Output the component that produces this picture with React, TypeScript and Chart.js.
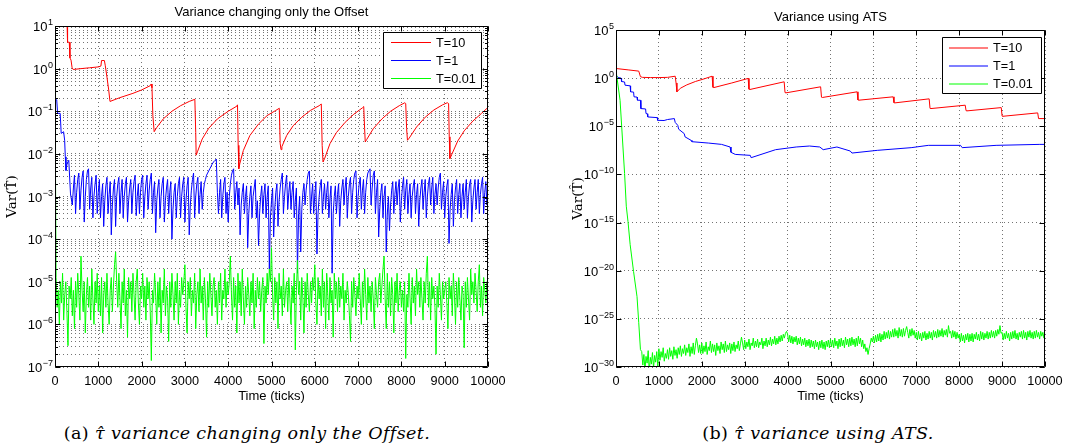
import React, { useEffect, useRef } from "react";
import { Chart, registerables } from "chart.js";

Chart.register(...registerables);

const SANS = "'Liberation Sans', Arial, Helvetica, sans-serif";
const SERIF = "'DejaVu Serif', 'Liberation Serif', serif";

// ---------- axes / ticks ----------
const xTickValues = [0, 1000, 2000, 3000, 4000, 5000, 6000, 7000, 8000, 9000, 10000];
const offsetYExponents = [-7, -6, -5, -4, -3, -2, -1, 0, 1];
const minorMantissas = [2, 3, 4, 5, 6, 7, 8, 9];
const atsYExponents = [-30, -25, -20, -15, -10, -5, 0, 5];

const seriesLabels = ["T=10", "T=1", "T=0.01"];
const seriesColors = ["rgb(255,0,0)", "rgb(0,0,255)", "rgb(0,255,0)"];

// ---------- (a) Variance changing only the Offset : log10(Var) ----------
const offRedTicks = [0,280,290,330,345,370,395,420,600,800,1000,1060,1075,1140,1160,1200,1240,1270,1500,1800,2000,2200,2220,2240,2260,2290,2350,2500,2700,2900,3100,3230,3250,3260,3290,3400,3550,3750,4000,4200,4215,4230,4245,4270,4350,4500,4700,4900,5100,5180,5200,5220,5240,5350,5500,5700,5900,6100,6150,6170,6190,6230,6350,6500,6700,6900,7100,7130,7150,7165,7200,7350,7550,7750,7950,8080,8100,8120,8140,8180,8350,8550,8750,8950,9060,9090,9105,9120,9160,9300,9450,9650,9850,10000];
const offRedLog10 = [1.0,1.0,0.62,0.62,0.25,0.2,0.02,-0.02,0.0,0.02,0.04,0.06,0.19,0.19,0.08,-0.2,-0.5,-0.77,-0.68,-0.58,-0.5,-0.4,-0.36,-0.45,-1.1,-1.48,-1.38,-1.18,-1.0,-0.87,-0.77,-0.72,-1.5,-2.03,-1.95,-1.65,-1.4,-1.18,-1.0,-0.88,-0.85,-1.8,-2.35,-2.22,-1.92,-1.57,-1.3,-1.1,-0.98,-0.93,-1.75,-1.9,-1.83,-1.57,-1.34,-1.14,-0.98,-0.87,-0.83,-1.8,-2.19,-2.1,-1.76,-1.5,-1.26,-1.07,-0.92,-0.89,-1.4,-1.72,-1.66,-1.41,-1.18,-1.0,-0.87,-0.8,-0.82,-1.4,-1.68,-1.63,-1.37,-1.14,-0.97,-0.85,-0.8,-0.82,-1.6,-2.11,-2.02,-1.7,-1.46,-1.23,-1.05,-0.91];

const offBlueHeadTicks = [0,40,60,120,143,199,223,238,254,278,318,358];
const offBlueHeadLog10 = [-0.73,-0.73,-1.05,-1.05,-1.52,-1.48,-1.68,-2.07,-2.39,-2.23,-2.15,-2.94];
const offBlueNoiseStart = 400;
const offBlueNoiseStep = 25;
const offBlueNoiseLog10 = [
  -3.2,-2.8,-2.5,-3.4,-2.9,-2.6,-2.45,-3.3,-2.85,-2.55,-2.4,-3.6,-3.0,-2.6,-2.4,-2.35,-3.3,-2.8,-2.55,-3.5,
  -3.0,-2.7,-2.5,-3.4,-2.9,-2.6,-3.5,-3.0,-2.7,-3.7,-3.1,-2.75,-2.55,-3.4,-2.95,-2.65,-3.9,-3.2,-2.8,-2.6,
  -3.7,-3.0,-2.7,-2.55,-3.4,-2.9,-2.6,-3.5,-3.0,-2.7,-2.55,-3.6,-3.1,-2.8,-2.6,-3.4,-2.9,-2.65,-2.5,-3.45,
  -3.0,-2.7,-3.4,-2.9,-2.6,-2.5,-3.5,-3.0,-2.7,-2.5,-3.3,-2.85,-2.6,-2.45,-3.4,-2.9,-2.65,-3.85,-3.1,-2.8,
  -2.6,-3.5,-3.0,-2.7,-2.55,-3.6,-3.1,-2.8,-2.6,-3.4,-2.9,-2.65,-4.0,-3.3,-2.9,-2.7,-3.5,-3.0,-2.7,-2.55,
  -3.5,-3.0,-2.7,-2.55,-3.6,-3.1,-2.75,-2.55,-3.9,-3.2,-2.85,-2.6,-2.45,-3.5,-3.0,-2.7,-2.55,-3.4,-2.95,-2.65,
  -3.3,-2.9,-2.7,-2.6,-2.5,-2.45,-2.4,-2.35,-2.3,-2.25,-2.2,-2.18,-2.15,-2.12,-2.9,-3.4,-2.9,-2.6,-3.5,-3.0,
  -2.7,-2.55,-3.4,-2.9,-3.6,-3.0,-2.7,-2.5,-2.4,-2.35,-3.3,-2.9,-2.65,-3.2,-2.8,-3.9,-3.2,-2.9,-2.7,-3.4,
  -3.0,-2.75,-4.2,-3.4,-3.0,-2.75,-3.5,-3.0,-2.8,-2.6,-3.5,-3.1,-4.15,-3.4,-3.0,-2.75,-3.4,-2.95,-2.7,-3.5,
  -3.0,-2.75,-4.7,-3.5,-3.1,-2.8,-3.95,-3.3,-2.9,-2.7,-3.7,-3.1,-2.8,-2.6,-2.45,-3.4,-3.0,-2.7,-2.5,-3.3,
  -2.9,-2.65,-3.3,-2.9,-2.65,-3.5,-3.1,-2.8,-4.8,-3.4,-3.0,-4.3,-3.3,-2.9,-2.7,-3.2,-2.85,-2.6,-2.45,-2.4,
  -3.4,-3.0,-2.7,-3.4,-2.95,-2.65,-4.35,-3.4,-3.0,-2.75,-2.6,-3.4,-3.0,-2.7,-3.3,-2.9,-2.65,-3.5,-3.05,-2.75,
  -4.8,-3.4,-3.0,-2.75,-3.4,-2.95,-2.7,-3.7,-3.1,-2.8,-2.6,-3.2,-2.8,-2.55,-3.5,-3.0,-2.7,-2.55,-3.4,-2.9,
  -2.6,-2.45,-2.4,-3.5,-3.0,-2.7,-2.55,-3.3,-2.85,-2.6,-3.4,-2.9,-2.6,-2.45,-2.4,-2.35,-3.2,-2.8,-2.5,-2.4,
  -3.4,-2.9,-2.6,-3.95,-3.3,-2.9,-2.7,-3.5,-3.0,-2.75,-4.3,-3.4,-3.0,-3.8,-3.2,-2.85,-2.65,-3.4,-2.95,-2.65,
  -3.2,-2.8,-2.6,-3.6,-3.1,-2.75,-2.55,-3.3,-2.85,-2.6,-3.4,-2.95,-2.7,-3.5,-3.0,-2.75,-2.6,-3.4,-2.95,-2.7,
  -3.7,-3.1,-2.8,-2.6,-3.3,-2.9,-2.6,-3.5,-3.0,-2.7,-2.55,-3.2,-2.8,-2.55,-3.4,-2.95,-2.7,-3.2,-2.8,-2.55,
  -2.45,-3.3,-2.9,-2.65,-3.5,-3.0,-2.75,-2.6,-4.1,-3.3,-2.95,-2.7,-3.7,-3.1,-2.8,-2.6,-3.4,-2.95,-2.7,-3.5,
  -3.0,-2.7,-3.3,-2.9,-2.6,-3.5,-3.0,-2.7,-2.6,-3.6,-3.1,-2.8,-2.6,-3.3,-2.9,-2.6,-3.4,-2.95,-2.7,-2.55,
  -3.4,-2.9,-2.65,-3.2,-2.8
];

const offGreenHeadTicks = [0, 12];
const offGreenHeadLog10 = [1.0, -2.5];
const offGreenNoiseStart = 25;
const offGreenNoiseStep = 25;
const offGreenNoiseLog10 = [
  -4.9,-5.6,-5.2,-6.0,-5.0,-5.5,-4.8,-5.9,-5.3,-5.0,-5.7,-6.5,-5.1,-5.4,-4.9,-5.8,-5.2,-6.1,-5.0,-5.6,
  -4.8,-5.3,-5.9,-4.4,-5.2,-5.7,-5.0,-6.2,-5.3,-4.9,-5.6,-5.1,-5.9,-4.7,-5.4,-6.0,-5.0,-5.5,-4.8,-5.7,
  -5.1,-5.8,-4.9,-6.2,-5.3,-5.0,-5.6,-4.8,-5.5,-6.0,-5.2,-4.9,-5.7,-5.1,-4.6,-4.3,-5.0,-5.6,-4.8,-5.4,
  -6.1,-5.0,-5.5,-4.7,-5.8,-5.2,-6.3,-4.9,-5.4,-5.0,-5.7,-4.8,-5.3,-5.9,-5.0,-4.7,-5.5,-6.0,-5.1,-5.4,
  -4.8,-5.6,-5.1,-5.9,-4.9,-5.4,-5.0,-5.7,-6.85,-5.2,-5.5,-4.8,-5.3,-6.0,-5.0,-5.6,-4.9,-6.2,-5.2,-5.5,
  -4.7,-5.8,-5.1,-5.4,-6.4,-5.0,-5.6,-4.8,-5.3,-5.9,-5.0,-5.5,-4.8,-6.0,-5.2,-5.6,-4.9,-5.3,-5.0,-4.6,
  -5.6,-6.2,-5.0,-5.4,-4.9,-5.8,-5.2,-5.5,-4.8,-6.1,-5.3,-5.0,-5.7,-4.7,-5.5,-5.1,-5.9,-4.9,-5.4,-6.3,
  -5.0,-5.6,-4.8,-5.3,-5.8,-5.1,-4.9,-5.6,-5.2,-6.0,-5.0,-5.5,-4.8,-5.9,-5.2,-5.4,-4.7,-5.6,-5.0,-5.3,
  -5.0,-4.4,-5.3,-5.9,-4.9,-5.6,-5.1,-6.2,-4.8,-5.5,-5.0,-5.8,-4.7,-5.4,-6.0,-5.1,-5.6,-4.9,-5.3,-5.8,
  -5.0,-5.5,-4.8,-6.1,-5.2,-5.6,-4.9,-5.4,-5.0,-5.7,-5.2,-4.9,-6.45,-5.1,-5.5,-4.8,-5.3,-4.7,-5.0,-4.2,
  -5.3,-5.9,-4.9,-5.5,-5.0,-6.1,-4.8,-5.4,-5.1,-5.8,-4.7,-5.6,-5.2,-5.0,-5.7,-4.9,-5.4,-6.0,-5.1,-5.5,
  -4.8,-6.6,-5.2,-4.5,-5.3,-5.0,-5.9,-4.9,-5.4,-6.2,-5.0,-5.6,-4.8,-5.3,-5.7,-5.0,-5.5,-4.9,-5.2,-4.6,
  -5.5,-6.0,-4.9,-5.4,-5.1,-5.8,-4.7,-5.6,-5.0,-6.1,-4.8,-5.3,-5.9,-4.9,-5.5,-5.2,-6.3,-4.8,-5.4,-5.0,
  -5.7,-4.9,-5.6,-5.1,-5.4,-4.8,-5.9,-5.2,-5.5,-5.0,-5.3,-5.8,-6.4,-5.0,-5.6,-4.9,-5.3,-5.8,-5.1,-5.4,
  -4.8,-5.4,-6.0,-5.0,-5.6,-4.7,-5.3,-5.9,-4.9,-5.5,-5.1,-5.7,-5.0,-5.4,-6.1,-4.9,-5.3,-5.6,-5.0,-4.8,
  -5.5,-5.1,-4.7,-4.4,-5.4,-6.1,-4.8,-5.6,-5.0,-5.8,-4.9,-5.3,-6.2,-5.0,-5.5,-4.8,-5.7,-5.2,-5.0,-5.6,
  -5.2,-5.7,-5.0,-6.8,-5.3,-5.6,-4.8,-5.4,-6.0,-4.9,-5.5,-5.1,-5.8,-4.7,-5.3,-5.0,-5.6,-4.9,-5.4,-5.9,
  -5.0,-5.5,-4.8,-4.4,-5.6,-5.0,-5.9,-4.9,-5.4,-5.1,-5.6,-6.7,-5.1,-5.6,-4.8,-5.3,-5.9,-5.0,-5.4,-5.2,
  -5.0,-5.5,-6.1,-4.9,-5.4,-5.1,-5.8,-4.8,-5.3,-6.0,-5.0,-5.6,-4.9,-5.4,-5.9,-5.1,-5.3,-6.55,-5.0,-5.6,
  -4.9,-5.4,-5.9,-4.7,-5.3,-5.0,-5.5,-4.8,-5.2,-5.7,-5.0,-4.6,-5.6,-5.1,-5.8,-4.9,-5.2,-5.5,-5.0,-5.3
];

// ---------- (b) Variance using ATS : log10(Var) ----------
const atsRedTicks = [0,300,530,570,620,800,1000,1200,1380,1400,1420,1500,1650,1850,2050,2240,2260,2280,2700,3080,3100,3120,3920,3940,3960,4770,4790,4810,5620,5640,5660,6460,6480,6500,7300,7320,7340,8140,8160,8180,8980,9000,9020,9830,9850,10000];
const atsRedLog10 = [1.0,0.85,0.73,0.15,0.08,0.06,0.06,0.08,0.2,-0.5,-1.42,-1.05,-0.7,-0.35,-0.08,0.2,-0.95,-0.98,-0.5,-0.03,-1.15,-1.18,-0.38,-1.5,-1.53,-0.9,-1.98,-2.01,-1.42,-2.27,-2.29,-1.94,-2.55,-2.57,-2.15,-3.14,-3.16,-2.81,-3.38,-3.4,-3.06,-3.94,-3.96,-3.61,-4.2,-4.2];

const atsBlueTicks = [0,50,120,130,200,210,330,340,410,420,490,500,570,580,690,700,730,740,960,970,1120,1200,1360,1380,1440,1460,1590,1610,1750,1770,2150,2460,2660,2680,2780,3130,3150,3720,4200,4510,4750,4830,5150,5460,5500,6090,6880,7280,8030,8070,8860,9880,10000];
const atsBlueLog10 = [0.3,0.07,0.0,-0.35,-0.4,-0.73,-0.8,-1.42,-1.45,-1.94,-1.97,-2.29,-2.3,-3.16,-3.2,-3.68,-3.7,-4.03,-4.1,-4.38,-4.4,-4.3,-4.2,-4.6,-4.9,-5.3,-5.76,-6.1,-6.46,-6.6,-6.74,-6.88,-7.15,-7.7,-7.92,-8.02,-8.26,-7.43,-7.15,-7.05,-7.15,-7.43,-7.15,-7.57,-7.78,-7.5,-7.22,-6.98,-6.98,-7.22,-6.98,-6.88,-6.88];

const atsGreenHeadTicks = [0,95,200,240,280,330,410,490,530,570];
const atsGreenHeadLog10 = [0.8,-2.3,-9.9,-13.3,-14.9,-17.3,-20.1,-22.7,-25.4,-28.2];
const atsGreenNoiseStart = 600;
const atsGreenNoiseStep = 25;
const atsGreenNoiseLog10 = [
  -28.4,-29.8,-28.7,-30.3,-28.9,-29.6,-28.3,-30.5,-29.0,-29.7,-28.5,-30.1,-28.8,-29.5,-28.4,-29.9,
  -28.1,-29.3,-28.4,-29.0,-28.0,-29.4,-28.6,-29.1,-28.2,-29.2,-28.0,-28.9,-28.3,-29.2,-27.9,-28.8,-28.2,-29.1,-28.0,-28.7,
  -27.8,-28.9,-28.1,-28.6,-27.7,-28.8,-28.0,-28.5,-27.6,-28.9,-27.9,-28.6,-27.5,-28.7,-27.8,-27.0,-27.6,-28.5,-27.7,-28.6,
  -27.5,-28.6,-27.8,-28.4,-27.4,-28.7,-27.9,-28.3,-27.3,-28.5,-27.6,-28.4,-27.7,-28.8,-27.5,-28.3,-27.8,-28.6,-27.4,-28.2,
  -27.6,-28.5,-27.3,-28.4,-27.7,-28.2,-27.5,-28.6,-27.6,-28.3,-27.4,-28.4,-27.7,-28.1,-27.3,-28.3,-27.6,-26.9,-27.5,-28.2,
  -27.2,-28.1,-27.4,-27.9,-27.1,-28.2,-27.5,-27.8,-27.0,-28.0,-27.3,-27.9,-27.1,-28.0,-27.4,-27.7,-27.0,-28.1,-27.3,-27.8,
  -27.0,-27.9,-27.2,-27.7,-26.9,-27.8,-27.1,-27.6,-26.8,-27.7,-27.0,-27.6,-26.8,-27.4,-26.7,-27.3,-26.6,-27.0,-26.5,-26.3,
  -26.6,-27.4,-26.7,-27.5,-26.8,-27.6,-26.9,-27.4,-26.8,-27.7,-27.0,-27.6,-26.9,-27.8,-27.1,-27.7,-27.0,-27.9,-27.2,-27.8,
  -27.1,-28.0,-27.2,-27.9,-27.3,-28.1,-27.2,-27.9,-27.4,-28.2,-27.3,-28.0,-27.2,-28.1,-27.4,-28.2,-27.3,-27.9,-27.2,-28.0,
  -27.1,-27.9,-27.2,-28.0,-27.0,-27.8,-27.3,-28.1,-27.1,-27.9,-27.0,-27.8,-27.2,-28.0,-26.9,-27.7,-27.1,-27.9,-27.0,-27.8,
  -26.9,-27.7,-27.1,-27.9,-27.0,-27.8,-26.8,-27.6,-27.0,-27.9,-27.2,-28.1,-27.6,-28.4,-28.0,-28.7,-28.1,-27.6,-27.0,-27.4,
  -26.8,-27.5,-26.7,-27.4,-26.6,-27.3,-26.5,-27.4,-26.6,-27.2,-26.3,-27.1,-26.4,-27.0,-26.2,-27.1,-26.3,-26.9,-26.1,-26.9,
  -26.0,-26.8,-26.2,-27.0,-25.9,-26.8,-26.1,-26.9,-26.0,-26.8,-26.2,-25.8,-26.4,-27.0,-26.1,-26.8,-26.0,-26.7,-26.2,-27.0,
  -26.4,-27.2,-26.3,-27.1,-26.5,-27.3,-26.4,-27.0,-26.3,-27.2,-26.5,-27.1,-26.3,-27.0,-26.4,-27.2,-26.2,-26.9,-26.3,-27.0,
  -26.1,-26.9,-26.2,-26.8,-26.0,-26.9,-26.2,-26.7,-26.1,-26.9,-25.7,-26.5,-26.3,-27.0,-26.2,-26.9,-26.3,-27.1,-26.4,-27.0,
  -26.6,-27.4,-26.5,-27.3,-26.7,-27.5,-26.6,-27.2,-26.5,-27.4,-26.6,-27.3,-26.5,-27.4,-26.6,-27.1,-26.4,-27.2,-26.6,-27.3,
  -26.3,-27.1,-26.4,-27.2,-26.5,-27.0,-26.3,-27.1,-26.4,-27.0,-26.2,-26.9,-26.3,-27.0,-26.2,-26.8,-26.1,-26.6,-25.7,-26.5,
  -26.4,-27.2,-26.5,-27.1,-26.3,-27.0,-26.5,-27.3,-26.4,-27.1,-26.3,-27.0,-26.2,-27.1,-26.5,-27.2,-26.4,-26.9,-26.3,-27.1,
  -26.2,-27.0,-26.4,-27.2,-26.3,-26.9,-26.2,-27.0,-26.4,-27.1,-26.3,-27.0,-26.2,-26.9,-26.4,-27.1,-26.3,-26.8,-26.4,-27.0,
  -26.7
];

// ---------- helpers ----------
type Pt = { x: number; y: number };
const fromPairs = (ticks: number[], logs: number[]): Pt[] =>
  ticks.map((t, i) => ({ x: t, y: Math.pow(10, logs[i]) }));
const fromGrid = (start: number, step: number, logs: number[]): Pt[] =>
  logs.map((v, i) => ({ x: start + step * i, y: Math.pow(10, v) }));

interface LegendSpec { right: number; top: number; width: number; height: number; rows: number[]; lineStart: number; lineEnd: number; textX: number; lineOffset: number; }
interface PanelSpec {
  key: string;
  title: string;
  titlePad: { top: number; bottom: number };
  yExps: number[];
  minor: boolean;
  yAxisWidth: number;
  rightPad: number;
  yTitlePad: number;
  series: Pt[][];
  legend: LegendSpec;
}

const TICK_FONT = 12.7;

function buildYTicks(exps: number[], minor: boolean) {
  const out: { value: number; major: boolean }[] = [];
  exps.forEach((e, idx) => {
    out.push({ value: Math.pow(10, e), major: true });
    if (minor && idx < exps.length - 1) {
      minorMantissas.forEach((m) => out.push({ value: m * Math.pow(10, e), major: false }));
    }
  });
  return out;
}

function makeDecor(spec: PanelSpec, yTicks: { value: number; major: boolean }[]) {
  return {
    id: "matlabDecor" + spec.key,
    afterDraw(chart: any) {
      const { ctx, chartArea: a } = chart;
      const xs = chart.scales.x;
      const ys = chart.scales.y;
      ctx.save();
      ctx.globalAlpha = 1;
      ctx.globalCompositeOperation = "source-over";
      ctx.setLineDash([]);
      ctx.strokeStyle = "#000000";
      ctx.lineWidth = 1;
      const L = Math.round(a.left) + 0.5;
      const R = Math.round(a.right) - 0.5;
      const T = Math.round(a.top) + 0.5;
      const B = Math.round(a.bottom) - 0.5;
      ctx.beginPath();
      for (const v of xTickValues) {
        const px = Math.round(xs.getPixelForValue(v)) + 0.5;
        ctx.moveTo(px, B); ctx.lineTo(px, B - 5);
        ctx.moveTo(px, T); ctx.lineTo(px, T + 5);
      }
      for (const t of yTicks) {
        const py = Math.round(ys.getPixelForValue(t.value)) + 0.5;
        const len = t.major ? 5 : 2.5;
        ctx.moveTo(L, py); ctx.lineTo(L + len, py);
        ctx.moveTo(R, py); ctx.lineTo(R - len, py);
      }
      ctx.stroke();
      ctx.beginPath();
      ctx.rect(L, T, R - L, B - T);
      ctx.stroke();

      // y tick labels 10^e
      ctx.fillStyle = "#000000";
      ctx.textAlign = "left";
      ctx.textBaseline = "alphabetic";
      for (const e of spec.yExps) {
        const py = ys.getPixelForValue(Math.pow(10, e));
        const sup = e < 0 ? "\u2212" + String(-e) : String(e);
        ctx.font = `9px ${SANS}`;
        const sw = ctx.measureText(sup).width;
        ctx.font = `13px ${SANS}`;
        const bw = ctx.measureText("10").width;
        const xr = a.left - 2;
        ctx.fillText("10", xr - sw - bw - 0.5, py + 5);
        ctx.font = `9px ${SANS}`;
        ctx.fillText(sup, xr - sw, py - 1);
      }

      // legend box inside the axes (top-right)
      const lg = spec.legend;
      const bx = Math.round(a.right - lg.right - lg.width);
      const by = Math.round(a.top + lg.top);
      ctx.fillStyle = "#ffffff";
      ctx.fillRect(bx, by, lg.width, lg.height);
      ctx.beginPath();
      ctx.strokeStyle = "#000000";
      ctx.lineWidth = 1;
      ctx.rect(bx + 0.5, by + 0.5, lg.width, lg.height);
      ctx.stroke();
      for (let i = 0; i < seriesLabels.length; i++) {
        const yRow = Math.round(by + lg.rows[i]) + lg.lineOffset;
        ctx.fillStyle = seriesColors[i];
        ctx.fillRect(bx + lg.lineStart, yRow, lg.lineEnd - lg.lineStart, 1);
      }
      ctx.font = `${TICK_FONT}px ${SANS}`;
      ctx.textBaseline = "middle";
      ctx.textAlign = "left";
      ctx.fillStyle = "#000000";
      for (let i = 0; i < seriesLabels.length; i++) {
        const yRow = Math.round(by + lg.rows[i]);
        ctx.fillText(seriesLabels[i], bx + lg.textX, yRow + 1);
      }
      ctx.restore();
    },
  };
}

function buildChart(canvas: HTMLCanvasElement, spec: PanelSpec) {
  const yTicks = buildYTicks(spec.yExps, spec.minor);
  const gridColor = "rgba(0,0,0,0.55)";
  const datasets = spec.series.map((data, i) => ({
    label: seriesLabels[i],
    data,
    borderColor: seriesColors[i],
    backgroundColor: seriesColors[i],
    borderWidth: 1,
    pointRadius: 0,
    pointHoverRadius: 0,
    tension: 0,
    fill: false,
    order: 3 - i,
  }));
  return new Chart(canvas, {
    type: "line",
    data: { datasets },
    plugins: [makeDecor(spec, yTicks)],
    options: {
      animation: false,
      responsive: false,
      devicePixelRatio: 1,
      parsing: false,
      normalized: true,
      events: [],
      layout: { padding: { left: 0, right: spec.rightPad, top: 0, bottom: 0 } },
      plugins: {
        legend: { display: false },
        tooltip: { enabled: false },
        title: {
          display: true,
          text: spec.title,
          fullSize: false,
          color: "#000",
          font: { family: SANS, size: 13, weight: "normal" },
          padding: spec.titlePad,
        },
      },
      scales: {
        x: {
          type: "linear",
          min: 0,
          max: 10000,
          afterBuildTicks: (s: any) => { s.ticks = xTickValues.map((v) => ({ value: v })); },
          afterFit: (s: any) => { s.height = 43; },
          ticks: {
            autoSkip: false,
            maxRotation: 0,
            color: "#000",
            font: { family: SANS, size: TICK_FONT },
            padding: 6.4,
            callback: (v: any) => String(v),
          },
          grid: { color: gridColor, lineWidth: 1, drawTicks: false },
          border: { display: false, dash: [1, 3] },
          title: {
            display: true,
            text: "Time (ticks)",
            color: "#000",
            font: { family: SANS, size: 13 },
            padding: { top: 0, bottom: 6.2 },
          },
        },
        y: {
          type: "logarithmic",
          min: Math.pow(10, spec.yExps[0]),
          max: Math.pow(10, spec.yExps[spec.yExps.length - 1]),
          afterBuildTicks: (s: any) => { s.ticks = yTicks.map((t) => ({ value: t.value })); },
          afterFit: (s: any) => { s.width = spec.yAxisWidth; },
          ticks: { display: false },
          grid: { color: gridColor, lineWidth: 1, drawTicks: false },
          border: { display: false, dash: [1, 3] },
          title: {
            display: true,
            text: "Var(T\u0302)",
            color: "#000",
            font: { family: SERIF, size: 13.5 },
            padding: { top: spec.yTitlePad, bottom: 0 },
          },
        },
      },
    } as any,
  });
}

const offsetSpec: PanelSpec = {
  key: "A",
  title: "Variance changing only the Offset",
  titlePad: { top: 4.2, bottom: 6.2 },
  yExps: offsetYExponents,
  minor: true,
  yAxisWidth: 55,
  rightPad: 47,
  yTitlePad: 4.5,
  series: [
    fromPairs(offRedTicks, offRedLog10),
    [...fromPairs(offBlueHeadTicks, offBlueHeadLog10), ...fromGrid(offBlueNoiseStart, offBlueNoiseStep, offBlueNoiseLog10)],
    [...fromPairs(offGreenHeadTicks, offGreenHeadLog10), ...fromGrid(offGreenNoiseStart, offGreenNoiseStep, offGreenNoiseLog10)],
  ],
  legend: { right: 7, top: 6, width: 98, height: 56, rows: [9.5, 27.5, 45.5], lineStart: 8, lineEnd: 48, textX: 53, lineOffset: 0 },
};

const atsSpec: PanelSpec = {
  key: "B",
  title: "Variance using ATS",
  titlePad: { top: 9.2, bottom: 5.2 },
  yExps: atsYExponents,
  minor: false,
  yAxisWidth: 81,
  rightPad: 25,
  yTitlePad: 35,
  series: [
    fromPairs(atsRedTicks, atsRedLog10),
    fromPairs(atsBlueTicks, atsBlueLog10),
    [...fromPairs(atsGreenHeadTicks, atsGreenHeadLog10), ...fromGrid(atsGreenNoiseStart, atsGreenNoiseStep, atsGreenNoiseLog10)],
  ],
  legend: { right: 4, top: 7, width: 99, height: 56, rows: [9.5, 27.5, 45.5], lineStart: 7, lineEnd: 46, textX: 51, lineOffset: 0.5 },
};

function Panel({ spec, left }: { spec: PanelSpec; left: number }) {
  const ref = useRef<HTMLCanvasElement | null>(null);
  useEffect(() => {
    if (!ref.current) return;
    const chart = buildChart(ref.current, spec);
    return () => chart.destroy();
  }, [spec]);
  return (
    <canvas
      ref={ref}
      width={535}
      height={410}
      style={{ position: "absolute", left, top: 0, width: 535, height: 410 }}
    />
  );
}

const captionStyle: React.CSSProperties = {
  position: "absolute",
  top: 423,
  textAlign: "center",
  fontFamily: SERIF,
  fontSize: 17.5,
  letterSpacing: "0.4px",
  fontStyle: "italic",
  color: "#000",
  whiteSpace: "nowrap",
};

export default function App() {
  return (
    <div style={{ position: "absolute", left: 0, top: 0, width: 1070, height: 448, background: "#fff", overflow: "hidden" }}>
      <Panel spec={offsetSpec} left={0} />
      <Panel spec={atsSpec} left={535} />
      <div style={{ ...captionStyle, left: 0, width: 494 }}>
        <span style={{ fontStyle: "normal" }}>(a)</span> τ̂ variance changing only the Offset.
      </div>
      <div style={{ ...captionStyle, left: 618, width: 400 }}>
        <span style={{ fontStyle: "normal" }}>(b)</span> τ̂ variance using ATS.
      </div>
    </div>
  );
}
